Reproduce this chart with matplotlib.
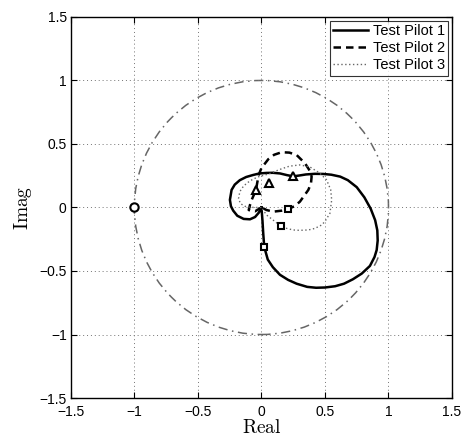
import matplotlib.pyplot as plt
from matplotlib.patches import Circle

plt.rcParams['font.family'] = ['Liberation Sans', 'DejaVu Sans']
plt.rcParams['mathtext.fontset'] = 'cm'

# Nyquist traces (real, imag) for the three pilots
pilot1_re = [0.0, 0.008, 0.014, 0.022, 0.05, 0.09, 0.146, 0.21, 0.277, 0.36, 0.43, 0.5,
             0.58, 0.65, 0.72, 0.79, 0.854, 0.89, 0.907, 0.915, 0.912, 0.895, 0.86, 0.81,
             0.75, 0.68, 0.62, 0.55, 0.487, 0.42, 0.35, 0.3, 0.25, 0.2, 0.146, 0.09, 0.04,
             -0.015, -0.065, -0.12, -0.17, -0.21, -0.235, -0.248, -0.24, -0.222, -0.19,
             -0.14, -0.09, -0.05, -0.02, 0.0]
pilot1_im = [0.0, -0.1, -0.2, -0.31, -0.41, -0.47, -0.53, -0.57, -0.60, -0.625, -0.632, -0.63,
             -0.62, -0.6, -0.565, -0.52, -0.46, -0.39, -0.335, -0.26, -0.18, -0.1, -0.01, 0.08,
             0.16, 0.215, 0.243, 0.258, 0.264, 0.265, 0.26, 0.252, 0.245, 0.255, 0.268, 0.273,
             0.272, 0.268, 0.256, 0.24, 0.215, 0.18, 0.138, 0.06, 0.01, -0.025, -0.065,
             -0.09, -0.093, -0.075, -0.04, 0.0]

pilot2_re = [0.0, -0.05, -0.1, -0.09, -0.077, -0.043, -0.032, -0.02, 0.0, 0.054, 0.1, 0.159,
             0.22, 0.277, 0.343, 0.38, 0.395, 0.39, 0.369, 0.303, 0.26, 0.211, 0.16, 0.093,
             0.04, 0.0]
pilot2_im = [0.0, -0.03, -0.02, 0.02, 0.059, 0.138, 0.2, 0.26, 0.31, 0.38, 0.415, 0.435,
             0.432, 0.413, 0.348, 0.29, 0.243, 0.19, 0.138, 0.046, 0.01, -0.012, -0.025, -0.033,
             -0.02, 0.0]

pilot3_re = [0.0, -0.06, -0.12, -0.165, -0.18, -0.17, -0.14, -0.09, -0.03, 0.06, 0.146, 0.22,
             0.3, 0.38, 0.46, 0.513, 0.545, 0.553, 0.539, 0.5, 0.474, 0.42, 0.369, 0.3, 0.25,
             0.2, 0.151, 0.093, 0.04, 0.0]
pilot3_im = [0.0, 0.0, 0.005, 0.03, 0.07, 0.125, 0.17, 0.21, 0.24, 0.265, 0.3, 0.325,
             0.335, 0.32, 0.27, 0.217, 0.14, 0.06, -0.046, -0.11, -0.138, -0.165, -0.177, -0.18,
             -0.177, -0.165, -0.146, -0.1, -0.059, 0.0]

# crossover markers (triangles) and bandwidth markers (squares)
tri_re = [0.25, -0.043, 0.061]
tri_im = [0.245, 0.138, 0.195]
sq_re = [0.022, 0.211, 0.151]
sq_im = [-0.31, -0.012, -0.146]

ticks = [-1.5, -1, -0.5, 0, 0.5, 1, 1.5]
tick_labels = ['\u22121.5', '\u22121', '\u22120.5', '0', '0.5', '1', '1.5']

fig = plt.figure(figsize=(4.66, 4.38), dpi=100)
ax = fig.add_axes([0.152, 0.0913, 0.818, 0.87])

ax.plot(pilot1_re, pilot1_im, color='k', lw=1.8, label='Test Pilot 1')
ax.plot(pilot2_re, pilot2_im, color='k', lw=1.8, linestyle=(0, (3, 2)), label='Test Pilot 2')
ax.plot(pilot3_re, pilot3_im, color='0.4', lw=1.0, linestyle=(0, (1, 1.8)), label='Test Pilot 3')

# unit circle
ax.add_patch(Circle((0, 0), 1.0, fill=False, edgecolor='0.4', lw=1.1,
                    linestyle=(0, (6, 3, 1, 3))))
ax.plot([-1], [0], 'o', mfc='white', mec='k', ms=6, mew=1.5)

ax.plot(tri_re, tri_im, '^', ls='none', mfc='white', mec='k', ms=6, mew=1.5)
ax.plot(sq_re, sq_im, 's', ls='none', mfc='white', mec='k', ms=4, mew=1.5)

ax.set_xlim(-1.5, 1.5)
ax.set_ylim(-1.5, 1.5)
ax.set_xticks(ticks)
ax.set_yticks(ticks)
ax.set_xticklabels(tick_labels)
ax.set_yticklabels(tick_labels)
ax.tick_params(direction='in', top=True, right=True, length=4, labelsize=10)
ax.tick_params(axis='x', pad=5)
ax.tick_params(axis='y', pad=3)
ax.grid(True, linestyle=(0, (1, 3)), color='0.45', lw=0.7)
for s in ax.spines.values():
    s.set_linewidth(1.0)

ax.set_xlabel(r'$\mathrm{Real}$', fontsize=14, labelpad=0)
ax.set_ylabel(r'$\mathrm{Imag}$', fontsize=14, labelpad=4)

leg = ax.legend(loc='upper right', fontsize=10.5, frameon=True, fancybox=False,
                edgecolor='k', borderaxespad=0.25, handlelength=2.4, handletextpad=0.3,
                labelspacing=0.2, borderpad=0.25)
leg.get_frame().set_linewidth(0.8)

fig.savefig('out.png', dpi=100)
